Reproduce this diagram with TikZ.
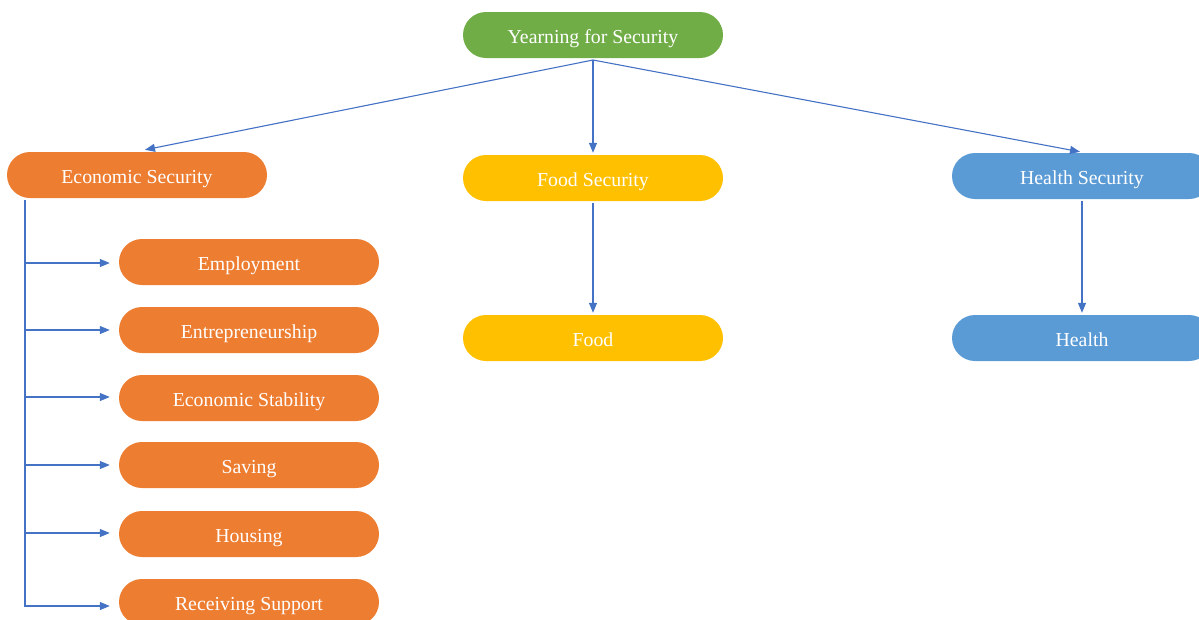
\documentclass[tikz,border=0pt]{standalone}
\usepackage{fontspec}
\setmainfont{Liberation Serif}
\usetikzlibrary{arrows.meta,calc}
\definecolor{cgreen}{HTML}{70AD47}
\definecolor{corange}{HTML}{ED7D31}
\definecolor{cyellow}{HTML}{FFC000}
\definecolor{cblue}{HTML}{5B9BD5}
\definecolor{cline}{HTML}{4472C4}
\tikzset{
  pill/.style={rectangle, rounded corners=23pt, minimum width=260pt, minimum height=46pt,
    inner sep=0pt, text=white, text height=16.5pt, text depth=0pt,
    font=\fontsize{19.8pt}{22pt}\selectfont},
  gpill/.style={pill, fill=cgreen},
  opill/.style={pill, fill=corange},
  ypill/.style={pill, fill=cyellow},
  bpill/.style={pill, fill=cblue},
  conn/.style={draw=cline, line width=1.1pt},
  arr/.style={conn, -{Triangle[length=10pt,width=8pt]}},
}
\begin{document}
\begin{tikzpicture}[x=1pt,y=-1pt]
\useasboundingbox (0,0) rectangle (1199,619);
\clip (0,0) rectangle (1199,619);
\node[gpill] (top) at (593,35) {Yearning for Security};
\node[opill] (econ) at (137,175) {Economic Security};
\node[ypill] (foodsec) at (593,178) {Food Security};
\node[bpill] (healthsec) at (1082,176) {Health Security};
\node[ypill] (food) at (593,338) {Food};
\node[bpill] (health) at (1082,338) {Health};
\node[opill] (emp) at (249,262) {Employment};
\node[opill] (ent) at (249,330) {Entrepreneurship};
\node[opill] (stab) at (249,398) {Economic Stability};
\node[opill] (sav) at (249,465) {Saving};
\node[opill] (hous) at (249,534) {Housing};
\node[opill] (recv) at (249,602) {Receiving Support};

\coordinate (topb) at (593,60);
\draw[arr] (topb) -- ($(econ.north)+(8,-2)$);
\draw[arr] (topb) -- ($(foodsec.north)+(0,-2)$);
\draw[arr] (topb) -- ($(healthsec.north)+(-2,-1)$);
\draw[arr] ($(foodsec.south)+(0,2)$) -- ($(food.north)+(0,-2)$);
\draw[arr] ($(healthsec.south)+(0,2)$) -- ($(health.north)+(0,-2)$);

\coordinate (trunk) at (25,200);
\coordinate (trunkend) at (25,607);
\draw[conn] (trunk) -- (trunkend);
\foreach \n/\yy in {emp/263, ent/330, stab/397, sav/465, hous/533, recv/606}{
  \coordinate (b\n) at (25,\yy);
  \draw[arr, shorten >=9pt] (b\n) -- (b\n -| \n.west);
}
\end{tikzpicture}
\end{document}
